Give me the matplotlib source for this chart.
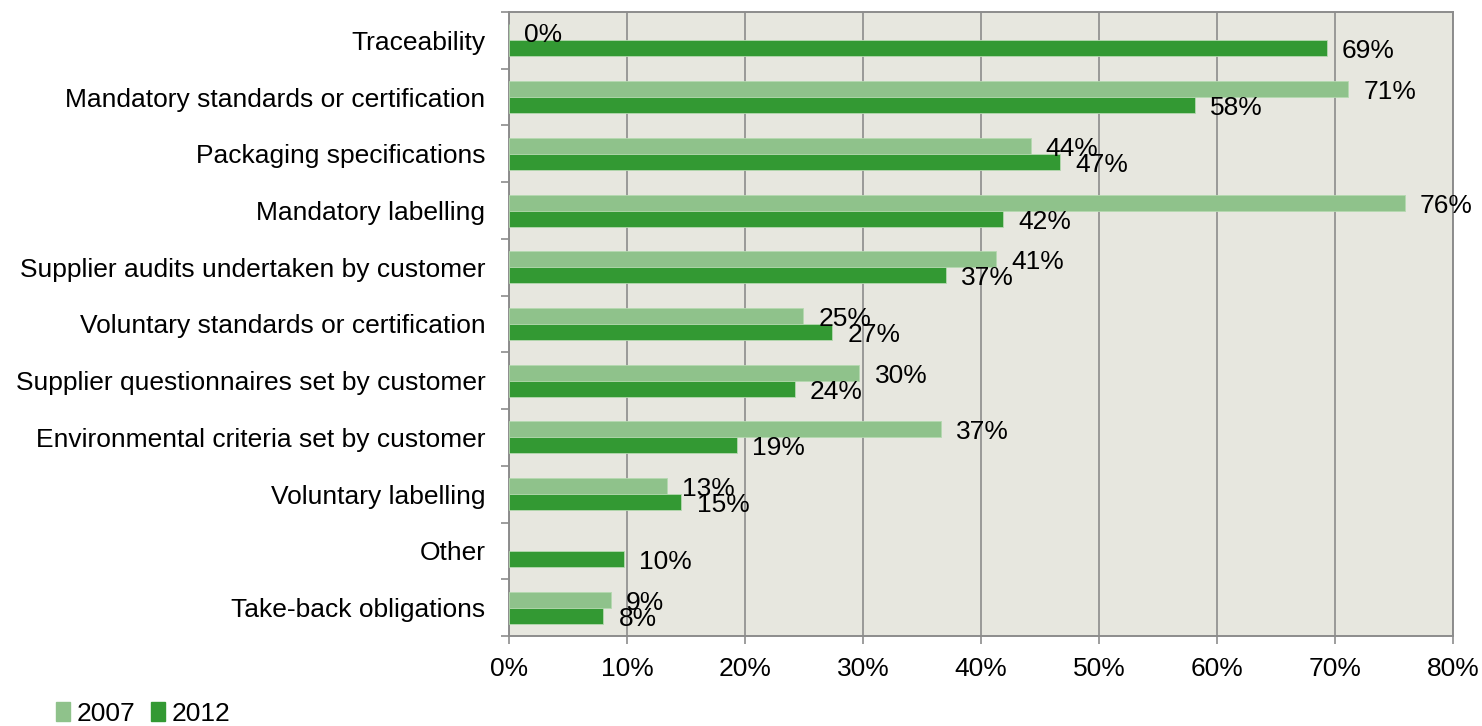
import matplotlib
matplotlib.use("Agg")
import matplotlib.pyplot as plt
from matplotlib.patches import Patch
from matplotlib.ticker import FuncFormatter, FixedLocator
import numpy as np

plt.rcParams['font.family'] = ['Liberation Sans', 'DejaVu Sans']

categories = ['Traceability', 'Mandatory standards or certification',
              'Packaging specifications', 'Mandatory labelling',
              'Supplier audits undertaken by customer',
              'Voluntary standards or certification',
              'Supplier questionnaires set by customer',
              'Environmental criteria set by customer',
              'Voluntary labelling', 'Other', 'Take-back obligations']
v2007 = [0.0, 71.1, 44.2, 75.9, 41.3, 24.9, 29.7, 36.6, 13.4, np.nan, 8.6]
v2012 = [69.3, 58.1, 46.7, 41.9, 37.0, 27.4, 24.2, 19.3, 14.6, 9.7, 8.0]
years = ['2007', '2012']
colors = ['#8fc28b', '#339933']

fig = plt.figure(figsize=(14.82, 7.26), dpi=100)
ax = fig.add_axes([0.3435, 0.124, 0.6369, 0.8595])
ax.set_facecolor('#e7e7df')

y = np.arange(len(categories))
h = 0.282
fs = 19

for vals, off, col in [(v2007, -h / 2, colors[0]), (v2012, h / 2, colors[1])]:
    for yi, v in zip(y, vals):
        if np.isnan(v):
            continue
        ax.barh(yi + off, v, height=h, color=col, edgecolor='#b5d9b0', linewidth=0.6, zorder=3)
        ax.annotate(f"{v:.0f}%", xy=(v, yi + off), xytext=(11, -2.2), textcoords='offset points',
                    ha='left', va='center', fontsize=fs, zorder=4)

ax.set_xlim(0, 80)
ax.set_ylim(len(categories) - 0.5, -0.5)
ax.set_xticks(np.arange(0, 81, 10))
ax.xaxis.set_major_formatter(FuncFormatter(lambda x, p: f"{x:.0f}%"))
ax.grid(axis='x', color='#8c8c8c', linewidth=1.2, zorder=1)
ax.set_axisbelow(True)

ax.set_yticks(y)
ax.set_yticklabels(categories)
ax.yaxis.set_minor_locator(FixedLocator(np.arange(-0.5, len(categories), 1)))
ax.tick_params(axis='y', which='major', length=0, pad=17, labelsize=fs)
ax.tick_params(axis='y', which='minor', length=6, width=1.2, color='#8c8c8c')
ax.tick_params(axis='x', length=6, width=1.2, color='#8c8c8c', pad=9, labelsize=fs)
for s in ax.spines.values():
    s.set_color('#8c8c8c')
    s.set_linewidth(1.4)

handles = [Patch(color=c, label=l) for c, l in zip(colors, years)]
fig.legend(handles=handles, loc='lower left', bbox_to_anchor=(0.029, -0.018), ncol=2,
           frameon=False, fontsize=fs, handlelength=0.53, handleheight=0.7,
           handletextpad=0.25, columnspacing=0.6, borderpad=0)

fig.savefig('out.png', dpi=100)
